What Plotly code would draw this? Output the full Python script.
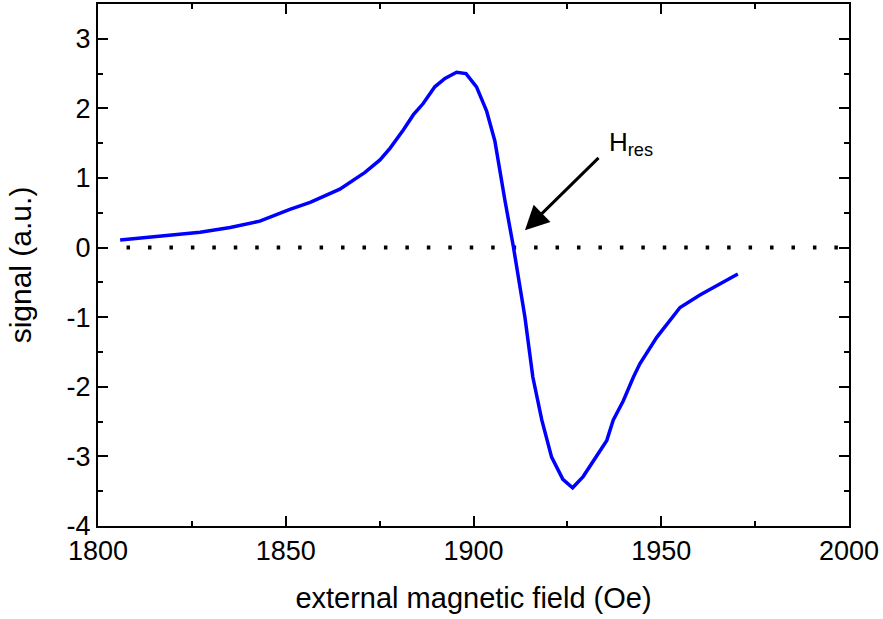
import plotly.graph_objects as go

# FMR derivative signal vs. external field
field_oe = [1805.9, 1811.2, 1819.2, 1827.2, 1835.2, 1843.1, 1851.1, 1856.5,
            1864.4, 1871.1, 1875.1, 1877.8, 1881.3, 1884.0, 1886.6, 1889.7,
            1892.4, 1895.5, 1898.0, 1900.8, 1903.5, 1905.7, 1908.4, 1910.6,
            1913.7, 1915.8, 1918.2, 1920.8, 1923.8, 1926.4, 1929.2, 1933.7,
            1935.5, 1937.2, 1939.9, 1942.6, 1944.3, 1948.8, 1955.0, 1960.3,
            1965.6, 1970.4]
signal_au = [0.11, 0.14, 0.18, 0.22, 0.29, 0.38, 0.55, 0.65,
             0.84, 1.08, 1.26, 1.43, 1.69, 1.91, 2.07, 2.31,
             2.43, 2.52, 2.50, 2.31, 1.96, 1.53, 0.67, 0.02,
             -1.00, -1.86, -2.48, -3.01, -3.33, -3.45, -3.29, -2.91,
             -2.77, -2.48, -2.20, -1.86, -1.67, -1.29, -0.86, -0.68,
             -0.52, -0.38]

# zero baseline
zero_x = [1806, 2000]
zero_y = [0, 0]

# resonance field marker
h_res = 1913.7
h_res_label = "H<sub>res</sub>"

x_ticks = [1800, 1850, 1900, 1950, 2000]
y_ticks = [-4, -3, -2, -1, 0, 1, 2, 3]

FONT = "Arial, Liberation Sans, sans-serif"

fig = go.Figure()
fig.add_trace(go.Scatter(
    x=zero_x, y=zero_y, mode="lines",
    line=dict(color="black", width=4, dash="0px,6px,3.5px,11.95px"),
    hoverinfo="skip", showlegend=False))
fig.add_trace(go.Scatter(
    x=field_oe, y=signal_au, mode="lines",
    line=dict(color="#0000FF", width=3.5),
    showlegend=False))

axis_common = dict(
    showgrid=False, zeroline=False, showline=True, linecolor="black",
    linewidth=2, mirror="allticks", ticks="inside", ticklen=10,
    tickwidth=2, tickcolor="black",
    tickfont=dict(family=FONT, size=27, color="black"),
)

fig.update_xaxes(
    range=[1800, 2000], tickvals=x_ticks,
    ticktext=[str(v) for v in x_ticks],
    minor=dict(dtick=25, ticks="inside", ticklen=5, tickwidth=2,
               tickcolor="black"),
    title_text="external magnetic field (Oe)", title_standoff=22,
    title_font=dict(family=FONT, size=29, color="black"),
    **axis_common)
fig.update_yaxes(
    range=[-4, 3.5], tickvals=y_ticks,
    ticktext=[str(v) for v in y_ticks],
    minor=dict(dtick=0.5, ticks="inside", ticklen=5, tickwidth=2,
               tickcolor="black"),
    title_text="signal (a.u.)", title_standoff=26,
    title_font=dict(family=FONT, size=30, color="black"),
    **axis_common)

# arrow pointing at the zero crossing
fig.add_annotation(
    x=h_res, y=0.25, ax=1933.7, ay=1.31, xref="x", yref="y",
    axref="x", ayref="y", text="", showarrow=True,
    arrowhead=2, arrowsize=1.6, arrowwidth=3, arrowcolor="black")
fig.add_annotation(
    x=1935.5, y=1.5, xref="x", yref="y", text=h_res_label,
    showarrow=False, xanchor="left", yanchor="middle",
    font=dict(family=FONT, size=26, color="black"))

fig.update_layout(
    width=883, height=619,
    margin=dict(l=98, r=34, t=2, b=93),
    plot_bgcolor="white", paper_bgcolor="white",
    font=dict(family=FONT, color="black"),
)

fig.write_html("out.html")
